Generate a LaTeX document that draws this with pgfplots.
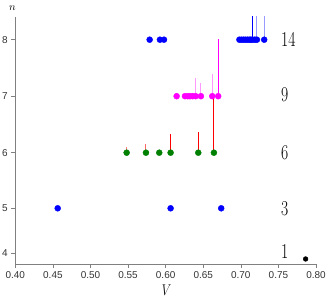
\documentclass[border=0pt]{standalone}
\usepackage{pgfplots}
\pgfplotsset{compat=1.18}
\usepackage{graphicx}
\usepackage{fontspec}
\newfontfamily\ticksf{Liberation Sans}
\definecolor{mag}{RGB}{255,0,255}
\definecolor{blu}{RGB}{0,0,255}
\definecolor{grn}{RGB}{0,128,0}
\newcommand{\cnt}[1]{\scalebox{1}[1.35]{\fontsize{15.7}{16}\selectfont #1}}
\begin{document}
\begin{tikzpicture}
\begin{axis}[
  at={(0,0)}, anchor=south west,
  scale only axis, width=300.7bp, height=247.3bp,
  xmin=0.40, xmax=0.80, ymin=4.03, ymax=8.407,
  axis lines=left, axis line style={-, draw=black!50, line width=0.6pt},
  tick style={draw=black!50, line width=0.6pt},
  tick align=outside, major tick length=4bp,
  xtick={0.40,0.45,0.50,0.55,0.60,0.65,0.70,0.75,0.80},
  xticklabels={0.40,0.45,0.50,0.55,0.60,0.65,0.70,0.75,0.80},
  ytick={4.225,5.016,6,7,8}, yticklabels={4,5,6,7,8},
  tick label style={font=\ticksf\fontsize{10}{12}\selectfont, text=black!80},
  xlabel={\scalebox{1}[1.3]{\fontsize{11.5}{12}\selectfont$V$}},
  xlabel style={at={(axis description cs:0.5035,-0.105)}, anchor=center},
  ylabel={\fontsize{11}{12}\selectfont$n$},
  ylabel style={rotate=-90, at={(axis description cs:-0.01,1.035)}, anchor=center},
  clip=true,
]
% row n=8 (14 points)
\addplot[only marks, mark=*, mark size=3bp, color=blu] coordinates {
 (0.5787,8) (0.5924,8) (0.5978,8) (0.6981,8) (0.7008,8) (0.7035,8) (0.7061,8)
 (0.7088,8) (0.7114,8) (0.7134,8) (0.7157,8) (0.7187,8) (0.7214,8) (0.7311,8)};
\addplot[blu, line width=1bp] coordinates {(0.7157,8) (0.7157,8.6)};
\addplot[blu!40, line width=1bp] coordinates {(0.7214,8) (0.7214,8.6)};
\addplot[blu!40, line width=1bp] coordinates {(0.7311,8) (0.7311,8.6)};
% row n=7 (9 points)
\addplot[only marks, mark=*, mark size=3bp, color=mag] coordinates {
 (0.6146,7) (0.6257,7) (0.6293,7) (0.6323,7) (0.6359,7) (0.6399,7) (0.6469,7) (0.6620,7) (0.6699,7)};
\addplot[mag!40, line width=1bp] coordinates {(0.6399,7) (0.6399,7.317)};
\addplot[mag!40, line width=1bp] coordinates {(0.6469,7) (0.6469,7.239)};
\addplot[mag!40, line width=1bp] coordinates {(0.6620,7) (0.6620,7.389)};
\addplot[mag, line width=1bp] coordinates {(0.6699,7) (0.6699,8.007)};
% row n=6 (6 points)
\addplot[only marks, mark=*, mark size=3bp, color=grn] coordinates {
 (0.5481,6) (0.5738,6) (0.5915,6) (0.6066,6) (0.6434,6) (0.6642,6)};
\addplot[red!50, line width=1bp] coordinates {(0.5481,6) (0.5481,6.106)};
\addplot[red!60, line width=1bp] coordinates {(0.5738,6) (0.5738,6.154)};
\addplot[red, line width=1bp] coordinates {(0.5915,6) (0.5915,6.03)};
\addplot[red, line width=1bp] coordinates {(0.6066,6) (0.6066,6.331)};
\addplot[red, line width=1bp] coordinates {(0.6434,6) (0.6434,6.361)};
\addplot[red, line width=1bp] coordinates {(0.6642,6) (0.6642,7.0)};
% row n=5 (3 points)
\addplot[only marks, mark=*, mark size=3bp, color=blu] coordinates {
 (0.4564,5.016) (0.6066,5.016) (0.6739,5.016)};
% row n=4 (1 point)
\addplot[only marks, mark=*, mark size=2.4bp, color=black] coordinates {(0.7862,4.119)};
% counts
\node[anchor=west, inner sep=0] at (axis cs:0.7533,8.012) {\cnt{14}};
\node[anchor=west, inner sep=0] at (axis cs:0.7533,7.02) {\cnt{9}};
\node[anchor=west, inner sep=0] at (axis cs:0.7533,6.0) {\cnt{6}};
\node[anchor=west, inner sep=0] at (axis cs:0.7533,5.016) {\cnt{3}};
\node[anchor=west, inner sep=0] at (axis cs:0.7533,4.248) {\cnt{1}};
\end{axis}
\pgfresetboundingbox
\useasboundingbox (-15.3bp,-36bp) rectangle (311.7bp,264bp);
\end{tikzpicture}
\end{document}
